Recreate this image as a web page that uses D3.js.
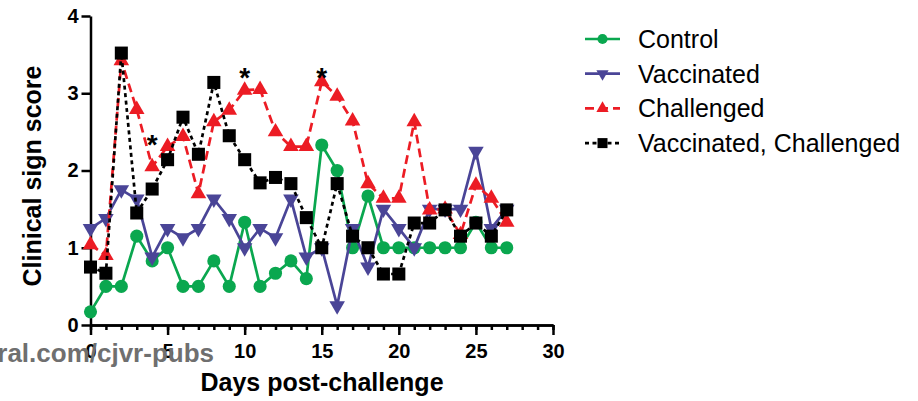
<!DOCTYPE html>
<html>
<head>
<meta charset="utf-8">
<script src="https://cdn.jsdelivr.net/npm/d3@7"></script>
<style>
    body { margin: 0; background: #fff; }
    svg { display: block; font-family: 'Liberation Sans', Arial, sans-serif; }
    .axis path, .axis line { stroke: #000; stroke-width: 2.5; }
    .axis text { font-size: 20px; font-weight: bold; fill: #000; }
</style>
</head>
<body>
<div id="chart"></div>
<script>
//Datos
const days = [0,1,2,3,4,5,6,7,8,9,10,11,12,13,14,15,16,17,18,19,20,21,22,23,24,25,26,27];
const control = [0.17,0.5,0.5,1.15,0.83,1.0,0.5,0.5,0.83,0.5,1.33,0.5,0.67,0.83,0.6,2.33,2.0,1.0,1.67,1.0,1.0,1.0,1.0,1.0,1.0,1.33,1.0,1.0];
const vaccinated = [1.25,1.38,1.75,1.63,0.88,1.25,1.13,1.25,1.63,1.38,1.0,1.25,1.13,1.63,0.88,1.0,0.25,1.25,0.75,1.5,1.25,1.0,1.5,1.5,1.5,2.25,1.25,1.5];
const challenged = [1.04,0.9,3.42,2.79,2.05,2.31,2.44,1.7,2.63,2.78,3.04,3.05,2.5,2.31,2.31,3.15,2.96,2.64,1.83,1.64,1.64,2.63,1.49,1.5,1.17,1.81,1.64,1.33];
const vacChallenged = [0.75,0.67,3.52,1.45,1.76,2.14,2.69,2.21,3.14,2.45,2.14,1.84,1.91,1.83,1.39,1.0,1.83,1.15,1.0,0.66,0.66,1.32,1.32,1.49,1.15,1.32,1.15,1.49];
const seriesNames = ['Control','Vaccinated','Challenged','Vaccinated, Challenged'];
const yTicks = [0,1,2,3,4];
const xTicks = [0,5,10,15,20,25,30];
//Asteriscos de significación
const sigDays = [4,10,15];
const sigLevels = [2.42,3.29,3.29];

//Estilos por serie
const styles = [
    { color: '#0aa74f', dash: null, symbol: d3.symbolCircle, size: 135, rot: 0, lsize: 80 },
    { color: '#4a4597', dash: null, symbol: d3.symbolTriangle, size: 105, rot: 180, lsize: 65 },
    { color: '#ec1c24', dash: '9,5', symbol: d3.symbolTriangle, size: 105, rot: 0, lsize: 65 },
    { color: '#000000', dash: '4,3.5', symbol: d3.symbolSquare, size: 170, rot: 0, lsize: 100 }
];
const values = [control, vaccinated, challenged, vacChallenged];

let width = 918, height = 401;

let svg = d3.select('#chart')
    .append('svg')
        .attr('width', width)
        .attr('height', height);

let x = d3.scaleLinear()
    .domain([0, 30])
    .range([90.5, 553]);

let y = d3.scaleLinear()
    .domain([0, 4])
    .range([325, 16]);

//Eje Y
svg.append('g')
    .attr('class', 'axis')
    .attr('transform', 'translate(' + x(0) + ',0)')
    .call(d3.axisLeft(y).tickValues(yTicks).tickFormat(d3.format('d')).tickSize(9).tickSizeOuter(0).tickPadding(3));

//Eje X: marcas menores cada día
svg.append('g')
    .attr('class', 'axis')
    .attr('transform', 'translate(0,' + y(0) + ')')
    .call(d3.axisBottom(x).tickValues(d3.range(0, 31)).tickFormat('').tickSize(5).tickSizeOuter(0))
    .call(function(g){ g.selectAll('.tick line').attr('stroke-width', 2); });

svg.append('g')
    .attr('class', 'axis')
    .attr('transform', 'translate(0,' + y(0) + ')')
    .call(d3.axisBottom(x).tickValues(xTicks).tickFormat(d3.format('d')).tickSize(10).tickSizeOuter(0).tickPadding(9));

//Títulos de ejes
svg.append('text')
    .attr('transform', 'translate(41,176) rotate(-90)')
    .attr('text-anchor', 'middle')
    .style('font-size', '25px')
    .style('font-weight', 'bold')
    .text('Clinical sign score');

svg.append('text')
    .attr('x', 322)
    .attr('y', 391)
    .attr('text-anchor', 'middle')
    .style('font-size', '25px')
    .style('font-weight', 'bold')
    .text('Days post-challenge');

//Series
let line = d3.line()
    .x(function(d) { return x(d.day); })
    .y(function(d) { return y(d.value); });

values.forEach(function(vals, i) {
    let st = styles[i];
    let data = days.map(function(d, j) { return { day: d, value: vals[j] }; });
    let g = svg.append('g');

    g.append('path')
        .datum(data)
        .attr('fill', 'none')
        .attr('stroke', st.color)
        .attr('stroke-width', 2.7)
        .attr('stroke-dasharray', st.dash)
        .attr('d', line);

    g.selectAll('.mark')
        .data(data)
        .enter()
        .append('path')
        .attr('class', 'mark')
        .attr('d', d3.symbol().type(st.symbol).size(st.size))
        .attr('transform', function(d) {
            return 'translate(' + x(d.day) + ',' + y(d.value) + ') rotate(' + st.rot + ')';
        })
        .attr('fill', st.color);
});

//Asteriscos
svg.selectAll('.sig')
    .data(sigDays)
    .enter()
    .append('text')
    .attr('class', 'sig')
    .attr('x', function(d) { return x(d); })
    .attr('y', function(d, i) { return y(sigLevels[i]) + 16; })
    .attr('text-anchor', 'middle')
    .style('font-size', '28px')
    .style('font-weight', 'bold')
    .text('*');

//Leyenda
let legend = svg.append('g').attr('transform', 'translate(585,39)');

seriesNames.forEach(function(name, i) {
    let st = styles[i];
    let row = legend.append('g').attr('transform', 'translate(0,' + (i * 34.7) + ')');
    row.append('line')
        .attr('x1', 0).attr('x2', 35)
        .attr('y1', 0).attr('y2', 0)
        .attr('stroke', st.color)
        .attr('stroke-width', 2.7)
        .attr('stroke-dasharray', st.dash);
    row.append('path')
        .attr('d', d3.symbol().type(st.symbol).size(st.lsize))
        .attr('transform', 'translate(17.5,0) rotate(' + st.rot + ')')
        .attr('fill', st.color);
    row.append('text')
        .attr('x', 53)
        .attr('y', 9)
        .style('font-size', '25px')
        .text(name);
});

//Marca de agua
svg.append('text')
    .attr('x', 214)
    .attr('y', 362)
    .attr('text-anchor', 'end')
    .style('font-size', '26px')
    .style('font-weight', 'bold')
    .style('fill', '#6f6f6f')
    .text('ral.com/cjvr-pubs');
</script>
</body>
</html>
